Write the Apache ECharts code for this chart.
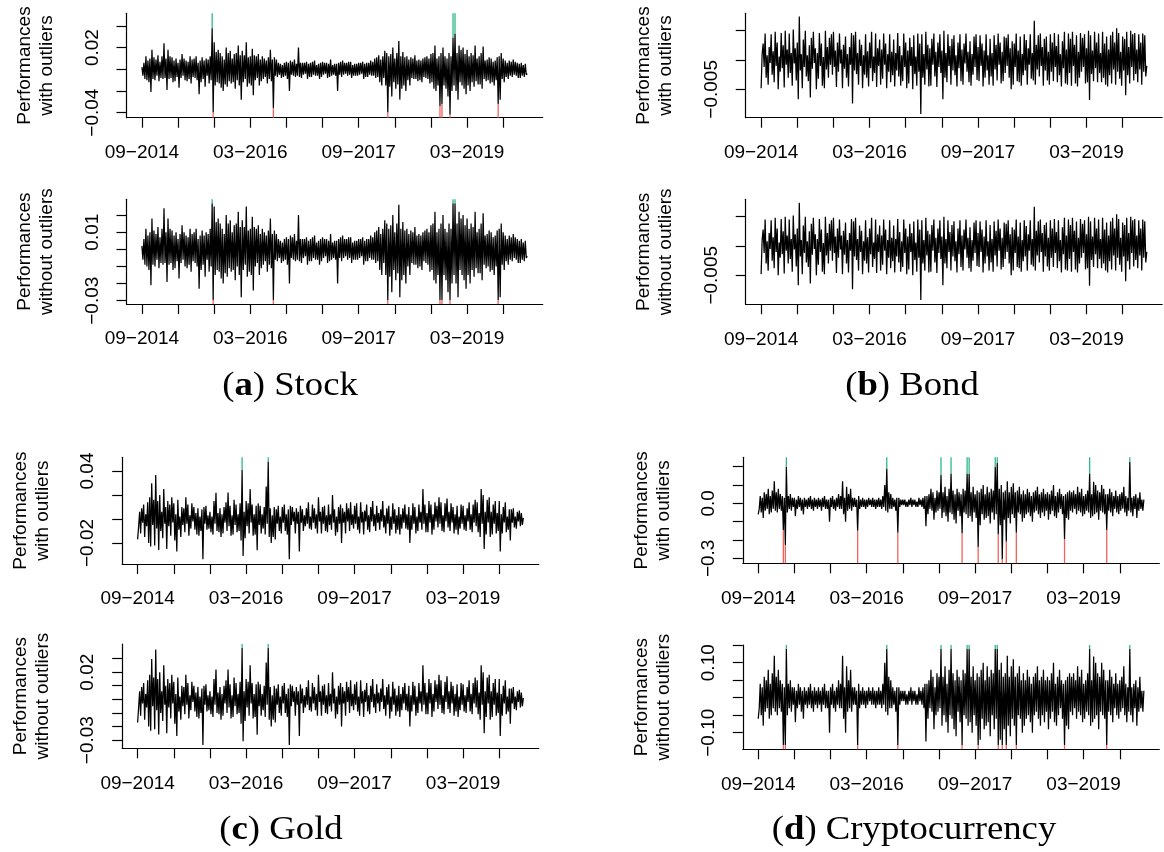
<!DOCTYPE html>
<html>
<head>
<meta charset="utf-8">
<script src="https://cdn.jsdelivr.net/npm/echarts@6/dist/echarts.min.js"></script>
<style>
  html, body { margin: 0; padding: 0; background: #ffffff; }
  #chart { width: 1164px; height: 852px; }
</style>
</head>
<body>
<div id="chart"></div>
<script>
// Sampling step of the return series, in months since 09-2014 (about five days).
const STEP_MONTHS = 1 / 6;

// Date axis: a tick every six months, a label every eighteen.
const tickMonths = [0, 6, 12, 18, 24, 30, 36, 42, 48, 54, 60];
const dateLabelMonths = [0, 18, 36, 54];
const dateLabels = ['09\u22122014', '03\u22122016', '09\u22122017', '03\u22122019'];

// Returns, stock index (basis points), 12 samples = 2 months per row.
const stockReturnsBp = [
  20, -60, 60, -90, 120, -100, 80, -120, 100, -210, 180, -90,
  110, -100, 90, -60, 130, -110, 70, -80, 120, -90, 240, -80,
  100, -190, 180, -90, 120, -80, 110, -120, 80, -110, 100, -70,
  60, -170, 90, -80, 140, -60, 100, -100, 80, -110, 70, -90,
  120, -130, 90, -70, 100, -80, 120, -100, 60, -230, 80, -120,
  110, -90, 80, -160, 100, -60, 90, -130, 120, -100, 380, -400,
  250, -150, 160, -120, 180, -130, 150, -170, 120, -200, 90, -140,
  200, -160, 150, -110, 170, -130, 100, -120, 140, -180, 150, -100,
  220, -150, 130, -280, 170, -120, 130, -90, 250, -160, 110, -130,
  120, -150, 190, -240, 130, -100, 120, -80, 140, -150, 90, -110,
  120, -90, 100, -70, 80, -130, 110, -90, 180, -110, 90, -360,
  110, -60, 90, -70, 60, -50, 50, -80, 40, -70, 60, -60,
  70, -90, 60, -200, 80, -50, 70, -60, 90, -70, 50, -60,
  200, -70, 60, -80, 60, -50, 60, -40, 70, -90, 50, -70,
  60, -70, 70, -50, 80, -60, 40, -60, 50, -90, 60, -70,
  70, -50, 60, -40, 60, -80, 50, -70, 90, -60, 40, -50,
  50, -60, 50, -200, 60, -50, 70, -70, 80, -50, 60, -40,
  60, -60, 70, -50, 70, -80, 40, -60, 50, -60, 50, -60,
  60, -50, 60, -40, 70, -90, 50, -70, 60, -70, 60, -50,
  80, -60, 70, -60, 100, -80, 110, -70, 130, -120, 90, -150,
  120, -80, 170, -150, 150, -400, 120, -160, 140, -250, 200, -120,
  100, -180, 150, -140, 260, -280, 120, -180, 160, -150, 110, -200,
  120, -100, 90, -150, 110, -80, 100, -90, 130, -90, 80, -110,
  90, -100, 80, -120, 100, -70, 110, -80, 120, -90, 100, -130,
  140, -120, 150, -180, 220, -200, 100, -150, 120, -340, 150, -320,
  200, -150, 120, -180, 100, -250, 150, -420, 120, -200, 290, -150,
  330, -200, 150, -280, 220, -120, 180, -150, 200, -180, 140, -230,
  180, -150, 120, -200, 150, -120, 130, -160, 220, -110, 100, -140,
  120, -140, 150, -180, 210, -90, 80, -110, 90, -100, 110, -130,
  100, -120, 70, -150, 80, -100, 110, -320, 120, -280, 150, -90,
  100, -120, 80, -70, 60, -90, 80, -60, 70, -70, 90, -50,
  70, -60, 60, -80, 50, -80, 60, -60, 40, -70, 50, -50,
  -40
];

// Returns, bond index (basis points).
const bondReturnsBp = [
  -48, 10, 28, -12, 45, -30, 8, -42, 22, -5, 44, -25,
  15, -38, 48, -10, 30, -50, 6, -20, 46, -14, 25, -47,
  50, -8, 18, -30, 45, -22, 12, -44, 52, -6, 20, -35,
  30, -67, 74, -18, 10, -48, 35, -12, 50, -28, 8, -36,
  25, -64, 38, -15, 48, -5, 20, -50, 12, -32, 46, -10,
  28, -44, 5, -48, 50, -16, 22, -30, 38, -8, 44, -25,
  48, -12, 16, -46, 30, -20, 45, -6, 18, -48, 26, -15,
  40, -30, 10, -45, 22, -8, 46, -74, 42, -18, 48, -24,
  12, -42, 35, -10, 26, -48, 8, -25, 44, -30, 15, -45,
  30, -14, 48, -36, 6, -22, 45, -46, 20, -10, 35, -42,
  18, -32, 45, -8, 28, -48, 10, -20, 44, -38, 14, -26,
  35, -45, 12, -18, 46, -28, 24, -44, 8, -36, 45, -12,
  30, -48, 16, -40, 38, -10, 22, -50, 42, -24, 6, -44,
  45, -20, 28, -92, 44, -30, 10, -42, 48, -16, 26, -45,
  20, -44, 36, -8, 45, -28, 14, -46, 30, -12, 44, -22,
  16, -67, 50, -30, 12, -38, 44, -10, 24, -42, 36, -18,
  42, -26, 8, -45, 30, -14, 44, -36, 18, -42, 28, -6,
  45, -20, 14, -38, 32, -44, 10, -25, 40, -12, 44, -34,
  22, -36, 42, -10, 28, -45, 16, -30, 44, -18, 8, -42,
  36, -28, 12, -44, 42, -16, 26, -35, 45, -8, 30, -40,
  14, -36, 40, -22, 38, -10, 44, -30, 20, -50, 32, -42,
  28, -12, 45, -36, 16, -38, 40, -44, 10, -26, 44, -18,
  34, -42, 20, -8, 44, -32, 12, -35, 67, -42, 26, -16,
  42, -28, 45, -10, 22, -44, 36, -18, 40, -35, 14, -42,
  44, -20, 30, -36, 46, -12, 24, -38, 44, -26, 10, -45,
  32, -14, 48, -40, 18, -42, 45, -22, 36, -44, 48, -10,
  26, -40, 42, -45, 14, -30, 46, -20, 38, -12, 44, -40,
  20, -38, 50, -68, 42, -24, 16, -36, 48, -14, 30, -38,
  45, -22, 12, -38, 48, -30, 28, -42, 40, -45, 18, -26,
  42, -40, 48, -16, 30, -42, 54, -20, 46, -32, 14, -44,
  40, -18, 36, -60, 48, -26, 22, -40, 50, -12, 44, -35,
  46, -24, 18, -38, 44, -16, 30, -42, 45, -20, 42, -28,
  -10
];

// Returns, gold (basis points).
const goldReturnsBp = [
  -170, -60, 60, -120, 90, -30, 120, -150, 40, -60, 140, -200,
  180, -230, 297, -50, 160, -220, 367, -80, 150, -258, 200, -100,
  60, -160, 250, -40, 100, -250, 150, -60, 120, -140, 180, -30,
  130, -180, 40, -270, 160, -90, 20, -150, 100, -50, 90, -110,
  180, -40, 120, -140, 30, -80, 130, -20, 100, -90, 50, -130,
  90, -140, 20, -100, 80, -336, 100, -40, 110, -90, 30, -80,
  60, -110, 20, -130, 150, -40, 219, -100, 50, -110, 90, -150,
  40, -120, 100, -30, 140, -100, 220, -60, 110, -140, 30, -130,
  160, -50, 120, -110, 40, -100, 130, -180, 408, -308, 60, -160,
  150, -60, 130, -120, 250, -30, 120, -140, 40, -130, 110, -260,
  130, -50, 110, -120, 40, -80, 100, -130, 270, -40, 478, -150,
  90, -200, 30, -150, 100, -170, 80, -40, 110, -100, 20, -120,
  100, -30, 120, -100, 40, -130, 80, -336, 110, -50, 100, -20,
  60, -120, 90, -40, 60, -270, 110, -30, 80, -100, 30, -60,
  90, -40, 140, -80, 20, -90, 120, -30, 90, -80, 40, -120,
  180, -20, 60, -120, 100, -40, 110, -100, 30, -110, 120, -50,
  40, -90, 200, -30, 80, -140, 20, -110, 100, -40, 120, -200,
  90, -30, 60, -120, 130, -20, 90, -100, 140, -50, 40, -80,
  110, -40, 130, -90, 20, -120, 140, -30, 60, -130, 70, -20,
  120, -90, 30, -110, 100, -20, 150, -60, 40, -100, 110, -30,
  50, -90, 80, -20, 150, -70, 30, -120, 90, -40, 110, -140,
  20, -90, 130, -40, 80, -120, 30, -90, 100, -130, 40, -80,
  90, -30, 120, -80, 40, -90, 100, -200, 30, -90, 130, -40,
  100, -120, 20, -100, 120, -30, 60, -90, 250, -40, 120, -110,
  50, -110, 150, -30, 120, -130, 40, -90, 140, -20, 110, -70,
  180, -40, 140, -100, 30, -110, 130, -20, 170, -70, 60, -100,
  130, -30, 100, -120, 40, -90, 110, -130, 20, -80, 120, -40,
  110, -90, 30, -100, 90, -20, 140, -90, 40, -110, 120, -30,
  160, -60, 140, -110, 50, -150, 250, -40, 200, -250, 60, -130,
  160, -30, 180, -150, 60, -130, 120, -40, 150, -120, 50, -100,
  150, -270, 40, -120, 100, -30, 140, -110, 20, -90, 80, -180,
  80, -30, 90, -70, 20, -80, 60, -20, 70, -60, 50, -50,
  10
];

// Returns, cryptocurrency index (percent).
const cryptoReturnsPct = [
  -6, -3, 4, -5, 3, -8, 6, -4, 5, -3, 8, -6,
  4, -5, 7, -3, 12, -4, 6, -5, 8, -3, 5, -4,
  4, -14.5, 3, -22.7, 20, -5, 4, -3, 5, -4, 3, -2,
  3, -7, 2, -3, 4, -2, 3, -4, 2, -6, 3, -2,
  2, -3, 3, -2, 4, -3, 2, -4, 3, -2, 2, -3,
  3, -2, 2, -4, 3, -2, 4, -3, 2, -3, 2, -10,
  3, -2, 4, -3, 2, -4, 3, -2, 5, -3, 4, -3,
  12, -6, 3, -10, 9, -4, 5, -3, 8, -4, 3, -2,
  3, -2, 2, -15, 4, -3, 2, -2, 3, -2, 2, -3,
  2, -2, 3, -1, 2, -2, 3, -2, 2, -3, 2, -2,
  3, -2, 2, -3, 4, -2, 10, -4, 19, -5, 6, -3,
  5, -3, 3, -2, 2, -4, 3, -16, 3, -2, 2, -1,
  2, -1, 2, -2, 1, -2, 2, -1, 3, -2, 2, -1,
  2, -2, 1, -2, 3, -1, 2, -2, 3, -3, 4, -12.5,
  4, -6, 5, -3, 8, -4, 6, -9, 3, -5, 7, -4,
  6, -3, 15.5, -8, 6, -5, 9, -7, 4, -10, 8, -5,
  16.3, -6, 7, -9, 5, -11, 8, -4, 6, -7, 5, -16.4,
  8, -5, 7, -6, 16.3, -8, 16, -7, 6, -10, 9, -5,
  5, -8, 7, -24, 6, -12, 8, -6, 10, -9, 5, -8,
  9, -7, 6, -11, 8, -5, 7, -9, 20, -6, 22, -17,
  8, -12, 10, -30.6, 6, -9, 7, -21, 12, -8, 6, -11,
  9, -6, 11, -8, 6, -16, 7, -5, 9, -6, 5, -10,
  7, -8, 5, -6, 8, -5, 6, -7, 4, -10, 6, -5,
  7, -4, 9, -6, 5, -8, 6, -5, 8, -7, 5, -4,
  6, -9, 5, -6, 7, -4, 10, -7, 4, -8, 6, -5,
  8, -3, 5, -6, 4, -19.5, 5, -8, 6, -9, 7, -4,
  6, -5, 7, -3, 5, -6, 9, -4, 6, -5, 8, -7,
  4, -6, 5, -4, 7, -5, 16.3, -8, 5, -7, 11.8, -6,
  10, -5, 7, -9, 6, -4, 10, -5, 8, -6, 5, -14.5,
  5, -4, 8, -5, 6, -7, 4, -3, 7, -5, 4, -6,
  5, -4, 6, -3, 9, -5, 4, -7, 3, -4, 22.7, -5,
  3, -7, 4, -3, 5, -8, 3, -4, 6, -3, 2, -4,
  2
];

// Outlier bounds [lower, upper]; returns outside them are flagged and capped.
const stockBounds = [-0.0296, 0.0269];
const bondBounds = null;
const goldBounds = [-0.04, 0.0379];
const cryptoBounds = [-0.136, 0.1396];

// Y ticks and the ticks that carry a label.
const stockWithTicks = [-0.04, -0.02, 0, 0.02, 0.04];
const stockWithLabels = [-0.04, 0.02];
const stockWithoutTicks = [-0.03, -0.02, -0.01, 0, 0.01, 0.02];
const stockWithoutLabels = [-0.03, 0.01];
const bondTicks = [-0.005, 0, 0.005];
const bondLabels = [-0.005];
const goldWithTicks = [-0.02, 0, 0.02, 0.04];
const goldWithLabels = [-0.02, 0.04];
const goldWithoutTicks = [-0.03, -0.02, -0.01, 0, 0.01, 0.02, 0.03];
const goldWithoutLabels = [-0.03, 0.02];
const cryptoWithTicks = [-0.3, -0.2, -0.1, 0, 0.1, 0.2];
const cryptoWithLabels = [-0.3, 0];
const cryptoWithoutTicks = [-0.10, -0.05, 0, 0.05, 0.10, 0.15];
const cryptoWithoutLabels = [-0.10, 0.10];

const BP = 1e-4;
const PCT = 1e-2;

const assets = {
  stock: { values: stockReturnsBp.map(v => v * BP), bounds: stockBounds },
  bond: { values: bondReturnsBp.map(v => v * BP), bounds: bondBounds },
  gold: { values: goldReturnsBp.map(v => v * BP), bounds: goldBounds },
  crypto: { values: cryptoReturnsPct.map(v => v * PCT), bounds: cryptoBounds }
};

const SANS = '"Liberation Sans", Arial, Helvetica, sans-serif';
const SERIF = '"Liberation Serif", "Times New Roman", serif';
const UP_COLOR = '#2fb889';
const DOWN_COLOR = '#f0625c';
const SERIES_WIDTH = 1.25;

// Panel geometry (pixels) and y range of each plot.
const panels = [
  { asset: 'stock', capped: false, left: 126.5, top: 13.3, width: 416.2, height: 104.4,
    yRange: [-0.0447, 0.0517], ticks: stockWithTicks, labels: stockWithLabels, dec: 2,
    title: 'Performances\nwith outliers' },
  { asset: 'stock', capped: true, left: 126.5, top: 199.3, width: 416.2, height: 104.7,
    yRange: [-0.0319, 0.0292], ticks: stockWithoutTicks, labels: stockWithoutLabels, dec: 2,
    title: 'Performances\nwithout outliers' },
  { asset: 'bond', capped: false, left: 745.7, top: 13.3, width: 416.5, height: 104.4,
    yRange: [-0.00983, 0.00796], ticks: bondTicks, labels: bondLabels, dec: 3,
    title: 'Performances\nwith outliers' },
  { asset: 'bond', capped: true, left: 745.7, top: 199.3, width: 416.5, height: 105,
    yRange: [-0.00995, 0.00797], ticks: bondTicks, labels: bondLabels, dec: 3,
    title: 'Performances\nwithout outliers' },
  { asset: 'gold', capped: false, left: 122.2, top: 457.3, width: 416.6, height: 106.7,
    yRange: [-0.0375, 0.0514], ticks: goldWithTicks, labels: goldWithLabels, dec: 2,
    title: 'Performances\nwith outliers' },
  { asset: 'gold', capped: true, left: 122.2, top: 644, width: 416.6, height: 104.3,
    yRange: [-0.0360, 0.0407], ticks: goldWithoutTicks, labels: goldWithoutLabels, dec: 2,
    title: 'Performances\nwithout outliers' },
  { asset: 'crypto', capped: false, left: 742.8, top: 457.3, width: 416.5, height: 106,
    yRange: [-0.327, 0.251], ticks: cryptoWithTicks, labels: cryptoWithLabels, dec: 1,
    title: 'Performances\nwith outliers' },
  { asset: 'crypto', capped: true, left: 742.8, top: 645, width: 416.5, height: 104.3,
    yRange: [-0.1474, 0.1506], ticks: cryptoWithoutTicks, labels: cryptoWithoutLabels, dec: 2,
    title: 'Performances\nwithout outliers' }
];

// Sub-figure captions.
const captions = [
  { letter: 'a', name: 'Stock', x: 290, y: 386 },
  { letter: 'b', name: 'Bond', x: 912, y: 386 },
  { letter: 'c', name: 'Gold', x: 281, y: 830 },
  { letter: 'd', name: 'Cryptocurrency', x: 914, y: 830 }
];

const fmtTick = (v, dec) => v.toFixed(dec).replace('-', '\u2212');

const grids = [], xAxes = [], yAxes = [], series = [], graphics = [];

panels.forEach((p, k) => {
  const asset = assets[p.asset];
  const n = asset.values.length;
  const span = (n - 1) * STEP_MONTHS;
  const pad = span * 0.04;
  const lo = asset.bounds ? asset.bounds[0] : -Infinity;
  const hi = asset.bounds ? asset.bounds[1] : Infinity;

  grids.push({ left: p.left, top: p.top, width: p.width, height: p.height, containLabel: false });

  xAxes.push({
    type: 'value', gridIndex: k, min: -pad, max: span + pad,
    axisLine: { show: true, onZero: false, lineStyle: { color: '#000', width: 1.2 } },
    axisTick: { show: true, customValues: tickMonths, length: 10, lineStyle: { color: '#000', width: 1.2 } },
    axisLabel: {
      show: true, customValues: dateLabelMonths, margin: 24,
      formatter: v => dateLabels[dateLabelMonths.indexOf(v)],
      color: '#000', fontSize: 19, fontFamily: SANS, lineHeight: 22
    },
    splitLine: { show: false }
  });

  yAxes.push({
    type: 'value', gridIndex: k, min: p.yRange[0], max: p.yRange[1],
    axisLine: { show: true, onZero: false, lineStyle: { color: '#000', width: 1.2 } },
    axisTick: { show: true, customValues: p.ticks, length: 10, lineStyle: { color: '#000', width: 1.2 } },
    axisLabel: {
      show: true, customValues: p.labels, rotate: 90, margin: 24,
      formatter: v => fmtTick(v, p.dec),
      color: '#000', fontSize: 19, fontFamily: SANS, lineHeight: 20
    },
    splitLine: { show: false }
  });

  const shown = asset.values.map((v, i) => [
    i * STEP_MONTHS,
    p.capped ? Math.min(hi, Math.max(lo, v)) : v
  ]);

  series.push({
    type: 'line', xAxisIndex: k, yAxisIndex: k, data: shown,
    showSymbol: false, symbol: 'none', sampling: 'none', clip: true, silent: true,
    lineStyle: { color: '#000', width: SERIES_WIDTH }, z: 2
  });

  // Flagged returns: a coloured stroke from the (capped) value to the plot edge.
  const upSegs = [], downSegs = [];
  asset.values.forEach((v, i) => {
    const x = i * STEP_MONTHS;
    if (v > hi) {
      upSegs.push([x, p.capped ? hi : v], [x, p.yRange[1]], [x, '-']);
    } else if (v < lo) {
      downSegs.push([x, p.capped ? lo : v], [x, p.yRange[0]], [x, '-']);
    }
  });
  [[upSegs, UP_COLOR], [downSegs, DOWN_COLOR]].forEach(([segs, color]) => {
    if (!segs.length) return;
    series.push({
      type: 'line', xAxisIndex: k, yAxisIndex: k, data: segs,
      showSymbol: false, symbol: 'none', connectNulls: false, clip: true, silent: true,
      lineStyle: { color: color, width: 1.3 }, z: 3
    });
  });

  graphics.push({
    type: 'text', x: p.left - 90.5, y: p.top + p.height / 2, rotation: Math.PI / 2,
    silent: true,
    style: {
      text: p.title, fill: '#000', fontSize: 19, fontFamily: SANS,
      lineHeight: 22, align: 'center', verticalAlign: 'middle'
    }
  });
});

captions.forEach(c => {
  graphics.push({
    type: 'text', x: c.x, y: c.y, scaleX: 1.08, silent: true,
    style: {
      text: '({b|' + c.letter + '}) ' + c.name,
      fill: '#000', fontSize: 34, fontFamily: SERIF,
      align: 'center', verticalAlign: 'middle',
      rich: { b: { fontSize: 34, fontFamily: SERIF, fontWeight: 'bold', fill: '#000' } }
    }
  });
});

const chart = echarts.init(document.getElementById('chart'), null, { renderer: 'canvas' });
chart.setOption({
  animation: false,
  backgroundColor: '#ffffff',
  grid: grids,
  xAxis: xAxes,
  yAxis: yAxes,
  series: series,
  graphic: graphics
});
</script>
</body>
</html>
